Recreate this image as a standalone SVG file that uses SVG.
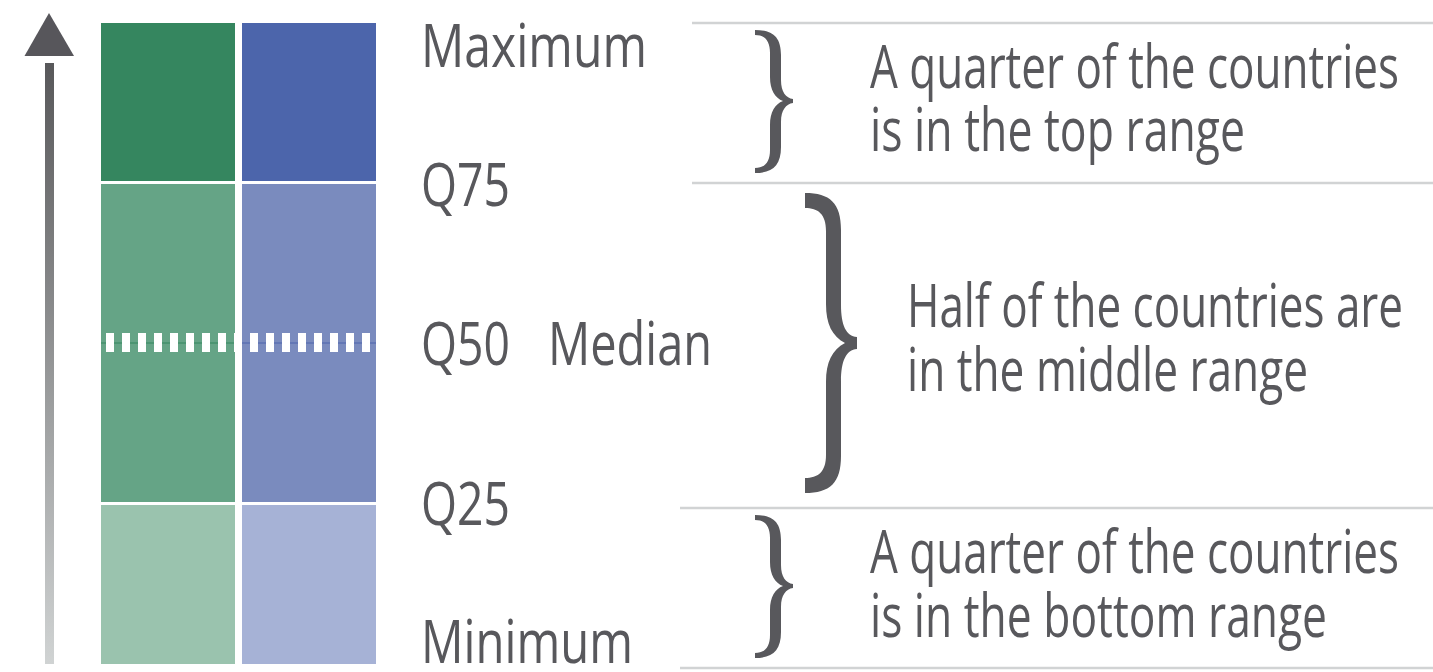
<svg xmlns="http://www.w3.org/2000/svg" width="1433" height="672" viewBox="0 0 1433 672">
  <defs>
    <linearGradient id="shaftGrad" x1="0" y1="0" x2="0" y2="1">
      <stop offset="0" stop-color="#58585a"/>
      <stop offset="1" stop-color="#d0d3d3"/>
    </linearGradient>
    <path id="smallBrace" d="M 755,30 C 772,30 781,36 781,55 L 781,80 C 781,92 786,98 793,99 L 793,103 C 786,104 781,110 781,122 L 781,147 C 781,166 772,173 755,173 L 755,168 C 765,168 770,162 770,150 L 770,125 C 770,112 775,104 783,101 C 775,98 770,90 770,77 L 770,53 C 770,41 765,35 755,35 Z"/>
  </defs>
  <style>
    .lbl { font-family: "Open Sans", "Noto Sans", "Liberation Sans", sans-serif; font-size: 60px; fill: #58585c; }
    .rule { stroke: #d1d3d4; stroke-width: 2.5; fill: none; }
    .brace { fill: #58585c; }
    .dash { stroke: #ffffff; stroke-width: 19; stroke-dasharray: 8 8; fill: none; }
  </style>
  <rect x="0" y="0" width="1433" height="672" fill="#ffffff"/>

  <g id="arrow">
    <rect x="45" y="63" width="9" height="601" fill="url(#shaftGrad)"/>
    <polygon points="49,13 24.5,56 74,56" fill="#57565b"/>
  </g>

  <g id="green-column">
    <rect x="101" y="23" width="134" height="158" fill="#35865f"/>
    <rect x="101" y="184" width="134" height="318" fill="#65a486"/>
    <rect x="101" y="505" width="134" height="159" fill="#9ac3ae"/>
    <line x1="101" y1="343" x2="235" y2="343" stroke="#35865f" stroke-width="1.2"/>
    <line class="dash" x1="106" y1="342.5" x2="235" y2="342.5"/>
  </g>

  <g id="blue-column">
    <rect x="242" y="23" width="134" height="158" fill="#4c65ab"/>
    <rect x="242" y="184" width="134" height="318" fill="#7a8bbe"/>
    <rect x="242" y="505" width="134" height="159" fill="#a6b2d6"/>
    <line x1="242" y1="343" x2="376" y2="343" stroke="#4c65ab" stroke-width="1.2"/>
    <line class="dash" x1="250" y1="342.5" x2="376" y2="342.5"/>
  </g>

  <g id="labels">
    <text class="lbl" x="421" y="67" textLength="226" lengthAdjust="spacingAndGlyphs">Maximum</text>
    <text class="lbl" x="421" y="206" textLength="89" lengthAdjust="spacingAndGlyphs">Q75</text>
    <text class="lbl" x="421" y="365" textLength="89" lengthAdjust="spacingAndGlyphs">Q50</text>
    <text class="lbl" x="548" y="365" textLength="164" lengthAdjust="spacingAndGlyphs">Median</text>
    <text class="lbl" x="421" y="525" textLength="89" lengthAdjust="spacingAndGlyphs">Q25</text>
    <text class="lbl" x="421" y="663" textLength="212" lengthAdjust="spacingAndGlyphs">Minimum</text>
  </g>

  <g id="connectors">
    <line class="rule" x1="692" y1="23" x2="1433" y2="23"/>
    <line class="rule" x1="692" y1="183" x2="1433" y2="183"/>
    <line class="rule" x1="680" y1="508" x2="1433" y2="508"/>
    <line class="rule" x1="680" y1="668" x2="1433" y2="668"/>
  </g>

  <g id="top-range">
    <use href="#smallBrace" class="brace"/>
    <text class="lbl" x="870" y="88" textLength="529" lengthAdjust="spacingAndGlyphs">A quarter of the countries</text>
    <text class="lbl" x="870" y="151" textLength="375" lengthAdjust="spacingAndGlyphs">is in the top range</text>
  </g>

  <g id="middle-range">
    <path class="brace" d="M 805,193 C 830,193 841,203 841,230 L 841,305 C 841,325 846,336 857,337 L 857,349 C 846,350 841,361 841,381 L 841,456 C 841,483 830,493 805,493 L 805,478 C 818,478 826,472 826,455 L 826,382 C 826,362 832,350 845,343 C 832,336 826,324 826,304 L 826,231 C 826,214 818,208 805,208 Z"/>
    <text class="lbl" x="907" y="327" textLength="496" lengthAdjust="spacingAndGlyphs">Half of the countries are</text>
    <text class="lbl" x="907" y="391" textLength="401" lengthAdjust="spacingAndGlyphs">in the middle range</text>
  </g>

  <g id="bottom-range">
    <use href="#smallBrace" class="brace" transform="translate(0,485)"/>
    <text class="lbl" x="870" y="573" textLength="529" lengthAdjust="spacingAndGlyphs">A quarter of the countries</text>
    <text class="lbl" x="870" y="637" textLength="457" lengthAdjust="spacingAndGlyphs">is in the bottom range</text>
  </g>
</svg>
